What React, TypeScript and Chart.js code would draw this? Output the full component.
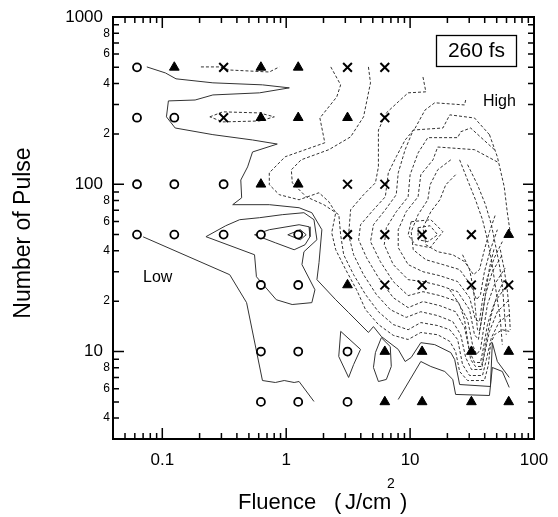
import React, { useEffect, useRef } from 'react';
import { Chart, registerables } from 'chart.js';

Chart.register(...registerables);

const FONT = '"Liberation Sans", Arial, Helvetica, sans-serif';

// Axis ticks
const xMajorTicks = [0.1, 1, 10, 100];
const xMajorLabels = ['0.1', '1', '10', '100'];
const xMinorTicks = [0.05, 0.06, 0.07, 0.08, 0.09, 0.2, 0.3, 0.4, 0.5, 0.6, 0.7, 0.8, 0.9, 2, 3, 4, 5, 6, 7, 8, 9, 20, 30, 40, 50, 60, 70, 80, 90];
const yMajorTicks = [10, 100, 1000];
const yMajorLabels = ['10', '100', '1000'];
const yMinorTicks = [4, 5, 6, 7, 8, 9, 20, 30, 40, 50, 60, 70, 80, 90, 200, 300, 400, 500, 600, 700, 800, 900];
const yMinorLabelValues = [4, 6, 8, 20, 40, 60, 80, 200, 400, 600, 800];
const yMinorLabels = ['4', '6', '8', '2', '4', '6', '8', '2', '4', '6', '8'];

// Markers [fluence, pulses]
const noDamage = [
  [0.0625, 500], [0.0625, 250], [0.125, 250], [0.0625, 100], [0.125, 100], [0.3125, 100],
  [0.0625, 50], [0.125, 50], [0.3125, 50], [0.625, 50], [1.25, 50], [0.625, 25], [1.25, 25],
  [0.625, 10], [1.25, 10], [3.125, 10], [0.625, 5], [1.25, 5], [3.125, 5],
];
const triangles = [
  [0.125, 500], [0.625, 500], [1.25, 500], [0.625, 250], [1.25, 250], [3.125, 250],
  [0.625, 100], [1.25, 100], [62.5, 50], [3.125, 25], [6.25, 10], [12.5, 10], [31.25, 10],
  [62.5, 10], [6.25, 5], [12.5, 5], [31.25, 5], [62.5, 5],
];
const crosses = [
  [0.3125, 500], [3.125, 500], [6.25, 500], [0.3125, 250], [6.25, 250], [3.125, 100], [6.25, 100],
  [3.125, 50], [6.25, 50], [12.5, 50], [31.25, 50], [6.25, 25], [12.5, 25], [31.25, 25], [62.5, 25],
];

// Solid contours
const contourS1 = [[0.075, 503], [0.106, 463], [0.129, 427], [0.256, 404], [0.643, 393], [1.06, 377], [0.608, 352], [0.256, 342], [0.184, 319], [0.112, 315], [0.108, 253], [0.127, 217], [0.256, 198], [0.535, 184], [0.847, 174], [0.535, 156], [0.488, 127], [0.43, 106], [0.437, 83], [0.37, 75.5], [0.731, 75.5], [1.27, 72.4], [1.61, 67.6], [1.94, 53.5], [1.84, 34], [1.77, 26.9], [2.51, 20.4], [3.19, 17.1], [4.61, 13.0], [5.06, 14.1], [5.86, 12.3], [8.02, 10.3], [9.12, 8.72], [10.2, 9.21], [12.2, 11.3], [15.8, 11.0], [21.3, 9.86], [22.9, 8.96], [25.1, 6.35], [44.5, 6.18], [46.1, 11.3], [50.6, 8.72], [63.1, 7.0]];
const contourC1 = [[0.225, 48.6], [0.325, 56.5], [0.421, 61.4], [0.608, 63.1], [0.929, 65.8], [1.39, 67.6], [1.675, 61.4], [1.77, 46.6], [1.39, 39.5], [1.34, 33.1], [1.706, 23.4], [1.61, 19.6], [1.117, 19.1], [0.832, 20.4], [0.575, 28.0], [0.555, 37.9], [0.225, 48.6]];
const contourC2 = [[0.555, 49.9], [0.731, 53.5], [1.27, 57.3], [1.528, 55.7], [1.556, 48.6], [1.419, 43.5], [1.159, 40.6], [0.817, 44.7], [0.555, 49.9]];
const contourC3 = [[1.03, 49.9], [1.3, 53.5], [1.45, 49.9], [1.3, 46.6], [1.03, 49.9]];
const contourS2 = [[0.07, 48.5], [0.35, 28.8], [0.479, 19.6], [0.643, 6.71], [0.817, 6.53], [0.964, 6.71], [1.159, 6.53], [1.27, 6.62], [1.675, 5.03]];
const contourS4 = [[2.754, 13.2], [3.98, 10.3], [3.5, 8.36], [3.19, 7.0], [2.655, 9.34], [2.754, 13.2]];
const contourS5 = [[5.86, 12.1], [6.92, 10.7], [7.05, 8.14], [6.43, 6.81], [5.55, 6.62], [5.06, 8.03], [5.25, 9.86], [5.86, 12.1]];
const contourS6 = [[8.02, 5.17], [12.2, 8.72], [14.7, 8.14], [19.05, 7.6], [22.1, 6.81], [23.3, 5.54], [43.7, 5.46], [46.1, 8.03], [55.5, 7.6], [63.1, 6.1]];

// Dashed contours
const contourD1 = [[0.205, 503], [0.29, 503], [0.35, 482], [0.73, 469], [0.88, 503]];
const contourD2 = [[0.242, 253], [0.308, 271], [0.608, 267], [0.802, 253], [0.608, 239], [0.308, 236], [0.242, 253]];
const contourD3 = [[2.29, 503], [2.75, 393], [2.56, 333], [1.87, 249], [2.05, 177], [0.98, 146], [0.73, 117], [0.731, 99.3], [0.88, 86.6], [1.27, 80.8], [1.84, 89], [2.21, 78.6], [2.51, 67.6], [2.33, 51.3], [2.51, 40.6], [3.02, 30.9], [3.7, 23.4], [4.37, 17.8], [5.55, 14.5], [7.31, 12.5], [9.64, 11.8], [12.2, 13.0], [16.7, 12.6], [20.9, 11.5], [23.3, 10], [25.1, 7.6], [29.1, 6.71], [39.8, 6.71], [42.9, 8.36], [44.5, 11.0], [47.9, 12.6], [55.5, 13.5], [63.1, 13.2]];
const contourD4 = [[4.61, 503], [4.79, 404], [4.21, 253], [3.31, 192], [2.21, 161], [1.32, 140], [1.1, 122], [1.12, 102], [1.45, 84.2], [2.01, 75.5], [2.66, 65.8], [2.75, 49.9], [2.91, 37.9], [3.5, 28.8], [4.37, 21.9], [5.55, 17.3], [7.31, 14.5], [9.64, 13.5], [12.2, 14.9], [16.7, 14.3], [20.9, 13.5], [24.2, 11.8], [26.5, 8.36], [30.2, 7.19], [38.4, 7.19], [41.3, 8.96], [45.3, 12.1], [52.5, 15.1], [63.1, 16.6]];
const contourD5 = [[12.7, 438], [13.4, 357], [9.64, 352], [8.02, 311], [6.43, 267], [5.55, 211], [5.55, 127], [5.25, 102], [4.21, 86.6], [3.31, 70.4], [3.19, 49.9], [3.5, 37.9], [4.21, 28.8], [5.35, 21.9], [6.92, 17.8], [9.29, 16.0], [12.2, 17.3], [16.7, 16.4], [22.1, 15.1], [25.6, 12.6], [28.1, 9.21], [31.3, 7.81], [37.7, 7.81], [39.8, 9.6], [43.7, 13.2], [50.6, 17.3], [63.1, 20.4]];
const contourD6 = [[28.1, 319], [27.5, 298], [15.8, 307], [13.2, 278], [11.0, 217], [9.12, 184], [7.73, 146], [6.67, 117], [6.31, 84.2], [5.06, 70.4], [3.98, 57.3], [3.84, 46.6], [4.45, 36.4], [5.55, 27.7], [7.31, 21.0], [9.64, 18.3], [12.7, 19.9], [17.4, 18.8], [23.3, 17.3], [27.5, 13.9], [30.2, 10], [33.1, 8.6], [37.0, 8.6], [39.1, 10.56], [42.1, 14.5], [47.9, 19.6], [60.8, 25.1]];
const contourD7 = [[43.7, 198], [33.1, 249], [20.9, 260], [18.4, 217], [10.6, 211], [9.12, 161], [8.02, 117], [7.73, 86.6], [6.31, 70.4], [5.06, 57.3], [4.79, 45.4], [5.75, 34.5], [7.31, 26.2], [9.64, 21.6], [12.7, 22.8], [17.4, 21.6], [24.2, 19.9], [29.1, 15.5], [31.9, 11.0], [34.4, 9.6], [37.0, 10.3], [39.1, 13.5], [42.1, 19.1], [47.9, 25.1], [58.6, 31.6]];
const contourD8 = [[47.9, 161], [30.8, 217], [25.6, 206], [24.2, 190], [13.9, 190], [11.6, 154], [10, 114], [9.64, 84.2], [7.73, 68.5], [6.43, 55], [6.19, 43.5], [7.31, 33.1], [9.64, 26.9], [12.7, 26.2], [17.4, 24.8], [24.2, 22.8], [30.2, 17.8], [33.1, 12.6], [35.6, 11.8], [37.7, 15.5], [40.6, 21.9], [46.1, 30.0], [55.5, 37.9]];
const contourD9 = [[50.6, 136], [33.1, 161], [16.7, 167], [15.3, 140], [12.2, 114], [11.6, 84.2], [9.29, 68.5], [8.02, 53.5], [8.02, 41.8], [9.64, 33.1], [12.7, 30], [17.4, 28.4], [24.2, 26.2], [30.2, 21], [33.7, 15.5], [36.3, 15.1], [38.4, 20.4], [42.1, 27.7], [47.9, 36.4], [55.5, 45.4]];
const contourD10 = [[21.3, 140], [16.7, 122], [14.5, 99.3], [13.9, 80.8], [11.6, 65.8], [10.2, 52], [10.6, 40.6], [13.4, 35.4], [18.4, 33.1], [25.1, 30.9], [30.8, 25.1], [34.4, 20.4], [37, 21.9], [39.8, 30], [44.5, 40.6], [50.6, 53.5]];
const contourD11 = [[23.3, 114], [19.4, 99.3], [17.4, 80.8], [14.7, 68.5], [12.7, 55], [13.4, 43.5], [16.7, 39.5], [22.1, 37.9], [27.5, 34.5], [32.5, 28.8], [36.3, 30.9], [39.8, 40.6], [43.7, 52], [48.8, 65.8]];
const contourD12 = [[10.2, 59.7], [14.7, 61.4], [18.4, 52], [14.5, 41.8], [11.0, 43.5], [9.64, 49.9], [10.2, 59.7]];
const contourD13 = [[11.6, 55], [14.5, 56.5], [16.7, 49.9], [13.9, 45.4], [11.6, 46.6], [11.6, 55]];
const contourE1 = [[43.7, 198], [50.6, 146], [57.5, 96.6], [60.8, 68.5], [64.3, 51.3]];
const contourF1 = [[25.1, 140], [29.1, 106], [33.7, 80.8], [38.4, 61.4], [42.1, 46.6], [45.3, 35.4], [47.9, 26.9], [50.6, 20.4], [53.5, 15.5], [55.5, 11.0]];
const contourF2 = [[29.1, 131], [35, 99.3], [40.6, 75.5], [45.3, 57.3], [48.8, 43.5], [52.5, 33.1], [55.5, 25.1], [57.5, 17.8], [59.7, 12.6]];
const contourF3 = [[53.5, 40.6], [57.5, 30.9], [60.8, 23.4], [63.1, 17.8], [64.3, 13.5]];
const contourUa = [[20.9, 23.4], [25.1, 19.1], [27.5, 15.5], [29.1, 11.8], [30.8, 8.96], [33.7, 8.14], [37.7, 8.14], [39.8, 10], [42.1, 12.6], [45.3, 16.6], [50.6, 21.9], [57.5, 26.9]];
const contourUb = [[26.5, 37.9], [30.2, 30.9], [32.5, 23.4], [33.7, 17.8], [35, 13.5], [36.3, 13.2], [38.4, 16.6], [40.6, 21.9], [43.7, 31.6], [47.9, 41.8]];

const solidContours = [contourS1, contourC1, contourC2, contourC3, contourS2, contourS4, contourS5, contourS6];
const dashedContours = [contourD1, contourD2, contourD3, contourD4, contourD5, contourD6, contourD7, contourD8, contourD9, contourD10, contourD11, contourD12, contourD13, contourE1, contourF1, contourF2, contourF3, contourUa, contourUb];

const toXY = (pts) => pts.map(([x, y]) => ({ x, y }));

const framePlugin = {
  id: 'frameAxes',
  afterDraw(chart) {
    const { ctx, chartArea: a } = chart;
    const xs = chart.scales.x;
    const ys = chart.scales.y;
    ctx.save();
    ctx.strokeStyle = '#000';
    ctx.lineWidth = 1.5;
    ctx.beginPath();
    const xt = (v, len) => {
      const p = xs.getPixelForValue(v);
      ctx.moveTo(p, a.bottom); ctx.lineTo(p, a.bottom - len);
      ctx.moveTo(p, a.top); ctx.lineTo(p, a.top + len);
    };
    const yt = (v, len) => {
      const p = ys.getPixelForValue(v);
      ctx.moveTo(a.left, p); ctx.lineTo(a.left + len, p);
      ctx.moveTo(a.right, p); ctx.lineTo(a.right - len, p);
    };
    xMajorTicks.forEach((v) => xt(v, 11));
    xMinorTicks.forEach((v) => xt(v, 6));
    yMajorTicks.forEach((v) => yt(v, 11));
    yMinorTicks.forEach((v) => yt(v, 6));
    ctx.stroke();
    ctx.lineWidth = 2;
    ctx.strokeRect(a.left, a.top, a.right - a.left, a.bottom - a.top);

    ctx.fillStyle = '#000';
    ctx.font = `17px ${FONT}`;
    ctx.textAlign = 'center';
    ctx.textBaseline = 'middle';
    xMajorTicks.forEach((v, i) => ctx.fillText(xMajorLabels[i], xs.getPixelForValue(v), a.bottom + 21));
    ctx.textAlign = 'right';
    yMajorTicks.forEach((v, i) => ctx.fillText(yMajorLabels[i], a.left - 10, ys.getPixelForValue(v)));
    ctx.font = `12px ${FONT}`;
    yMinorLabelValues.forEach((v, i) => ctx.fillText(yMinorLabels[i], a.left - 3, ys.getPixelForValue(v)));

    // Y title
    ctx.save();
    ctx.translate(24, 233);
    ctx.rotate(-Math.PI / 2);
    ctx.textAlign = 'center';
    ctx.textBaseline = 'middle';
    ctx.font = `23px ${FONT}`;
    ctx.fillText('Number of Pulse', 0, 0);
    ctx.restore();

    // X title with superscript
    ctx.textAlign = 'left';
    ctx.textBaseline = 'alphabetic';
    ctx.font = `22px ${FONT}`;
    const base = 509;
    ctx.fillText('Fluence', 238, base);
    ctx.fillText('(', 334, base);
    ctx.fillText('J/cm', 345, base);
    ctx.font = `14px ${FONT}`;
    ctx.fillText('2', 387, base - 21);
    ctx.font = `22px ${FONT}`;
    ctx.fillText(')', 400, base);

    // Annotations
    ctx.font = `16px ${FONT}`;
    ctx.fillText('High', 483, 106);
    ctx.fillText('Low', 143, 282);

    ctx.lineWidth = 1.3;
    ctx.strokeRect(436.5, 35.5, 80, 31);
    ctx.font = `21px ${FONT}`;
    ctx.textAlign = 'center';
    ctx.textBaseline = 'middle';
    ctx.fillText('260 fs', 476.5, 51.5);
    ctx.restore();
  },
};

export default function App() {
  const ref = useRef(null);
  useEffect(() => {
    const markerSets = [
      { data: toXY(noDamage), pointStyle: 'circle', pointRadius: 4, pointBorderWidth: 1.8, pointBackgroundColor: '#fff', pointBorderColor: '#000' },
      { data: toXY(triangles), pointStyle: 'triangle', pointRadius: 5.6, pointBorderWidth: 1, pointBackgroundColor: '#000', pointBorderColor: '#000' },
      { data: toXY(crosses), pointStyle: 'crossRot', pointRadius: 6.2, pointBorderWidth: 2, pointBackgroundColor: '#000', pointBorderColor: '#000' },
    ].map((d) => ({ ...d, showLine: false, clip: false }));
    const solidSets = solidContours.map((pts) => ({
      data: toXY(pts), showLine: true, pointRadius: 0, borderColor: '#333', borderWidth: 1, tension: 0, fill: false,
    }));
    const dashedSets = dashedContours.map((pts) => ({
      data: toXY(pts), showLine: true, pointRadius: 0, borderColor: '#333', borderWidth: 1, borderDash: [3, 2], tension: 0, fill: false,
    }));
    const chart = new Chart(ref.current, {
      type: 'scatter',
      data: { datasets: [...markerSets, ...solidSets, ...dashedSets] },
      options: {
        animation: false,
        responsive: false,
        devicePixelRatio: 1,
        events: [],
        layout: { padding: { left: 113, right: 24, top: 17, bottom: 78 } },
        plugins: { legend: { display: false }, tooltip: { enabled: false } },
        scales: {
          x: { type: 'logarithmic', min: 0.04, max: 100, display: false },
          y: { type: 'logarithmic', min: 3, max: 1000, display: false },
        },
      },
      plugins: [framePlugin],
    });
    return () => chart.destroy();
  }, []);
  return (
    <div style={{ position: 'absolute', left: 0, top: 0, width: 558, height: 517, background: '#fff' }}>
      <canvas ref={ref} width={558} height={517} style={{ display: 'block' }} />
    </div>
  );
}
